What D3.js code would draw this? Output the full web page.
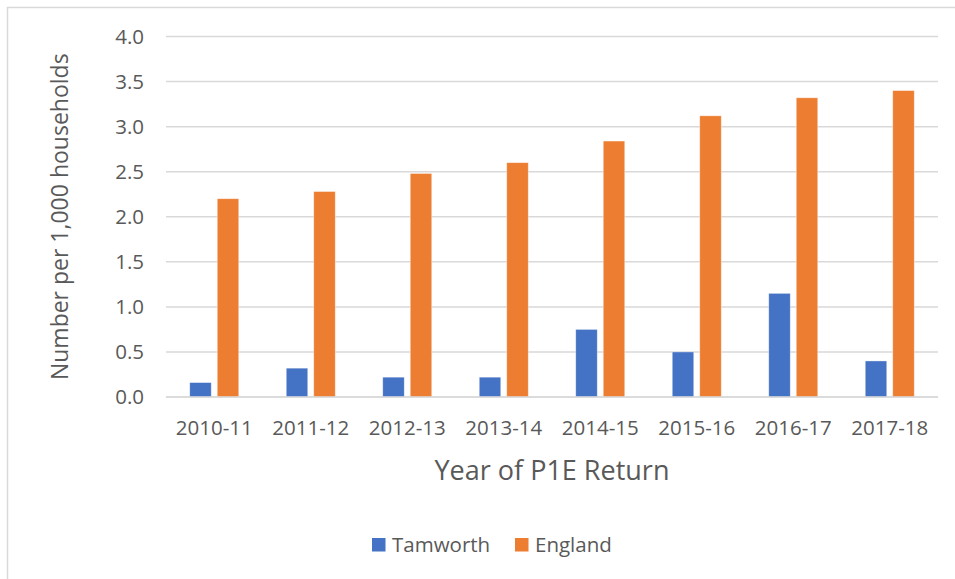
<!DOCTYPE html>
<html>
<head>
<meta charset="utf-8">
<script src="https://cdn.jsdelivr.net/npm/d3@7"></script>
<style>
  body { margin: 0; background: #fff; }
  text { font-family: "Open Sans", "Noto Sans", sans-serif; fill: #595959; }
</style>
</head>
<body>
<div id="chart"></div>
<script>
// chart data
var years = ["2010-11", "2011-12", "2012-13", "2013-14", "2014-15", "2015-16", "2016-17", "2017-18"];
var tamworth = [0.16, 0.32, 0.22, 0.22, 0.75, 0.50, 1.15, 0.40];
var england = [2.20, 2.28, 2.48, 2.60, 2.84, 3.12, 3.32, 3.40];
var seriesNames = ["Tamworth", "England"];
var seriesColors = ["#4472C4", "#ED7D31"];
var yTicks = [0, 0.5, 1.0, 1.5, 2.0, 2.5, 3.0, 3.5, 4.0];

var width = 955, height = 579;
var plot = {left: 166, right: 938, top: 36.5, bottom: 397};

var svg = d3.select("#chart").append("svg")
    .attr("width", width)
    .attr("height", height);

// outer frame (only top and left edges visible)
svg.append("path")
    .attr("d", "M7.5,579 L7.5,7.5 L955,7.5")
    .attr("fill", "none")
    .attr("stroke", "#d9d9d9")
    .attr("stroke-width", 1.5);

var x = d3.scaleBand()
    .domain(years)
    .range([plot.left, plot.right]);

var y = d3.scaleLinear()
    .domain([0, 4])
    .range([plot.bottom, plot.top]);

// gridlines
svg.append("g").selectAll("line")
    .data(yTicks)
  .enter().append("line")
    .attr("x1", plot.left)
    .attr("x2", plot.right)
    .attr("y1", function(d) { return y(d); })
    .attr("y2", function(d) { return y(d); })
    .attr("stroke", "#d9d9d9")
    .attr("stroke-width", 1.5);

// y tick labels
svg.append("g").selectAll("text")
    .data(yTicks)
  .enter().append("text")
    .attr("x", 144)
    .attr("y", function(d) { return y(d); })
    .attr("dy", "0.35em")
    .attr("text-anchor", "end")
    .style("font-size", "20.5px")
    .text(function(d) { return d3.format(".1f")(d); });

// bars
var barW = 21.5, barGap = 6;
var rows = years.map(function(yr, i) { return {year: yr, values: [tamworth[i], england[i]]}; });

var groups = svg.append("g").selectAll("g")
    .data(rows)
  .enter().append("g")
    .attr("transform", function(d) { return "translate(" + (x(d.year) + x.bandwidth() / 2) + ",0)"; });

groups.selectAll("rect")
    .data(function(d) { return d.values; })
  .enter().append("rect")
    .attr("x", function(d, i) { return i === 0 ? -barGap / 2 - barW : barGap / 2; })
    .attr("y", function(d) { return y(d); })
    .attr("width", barW)
    .attr("height", function(d) { return plot.bottom - y(d); })
    .attr("fill", function(d, i) { return seriesColors[i]; })
    .attr("stroke", "#ffffff")
    .attr("stroke-opacity", 0.5)
    .attr("stroke-width", 0.75);

// baseline drawn over bars
svg.append("line")
    .attr("x1", plot.left)
    .attr("x2", plot.right)
    .attr("y1", y(0))
    .attr("y2", y(0))
    .attr("stroke", "#d9d9d9")
    .attr("stroke-width", 1.5);

// x tick labels
svg.append("g").selectAll("text")
    .data(years)
  .enter().append("text")
    .attr("x", function(d) { return x(d) + x.bandwidth() / 2; })
    .attr("y", 435)
    .attr("text-anchor", "middle")
    .style("font-size", "20.5px")
    .text(function(d) { return d; });

// axis titles
svg.append("text")
    .attr("x", (plot.left + plot.right) / 2)
    .attr("y", 480)
    .attr("text-anchor", "middle")
    .style("font-size", "27px")
    .text("Year of P1E Return");

svg.append("text")
    .attr("transform", "translate(68," + ((plot.top + plot.bottom) / 2) + ") rotate(-90)")
    .attr("text-anchor", "middle")
    .style("font-size", "23px")
    .text("Number per 1,000 households");

// legend
var legendX = [372, 515];
var legend = svg.append("g").selectAll("g")
    .data(seriesNames)
  .enter().append("g")
    .attr("transform", function(d, i) { return "translate(" + legendX[i] + ",538)"; });

legend.append("rect")
    .attr("width", 13.5)
    .attr("height", 13.5)
    .attr("fill", function(d, i) { return seriesColors[i]; });

legend.append("text")
    .attr("x", 20)
    .attr("y", 14)
    .style("font-size", "20.5px")
    .text(function(d) { return d; });
</script>
</body>
</html>
